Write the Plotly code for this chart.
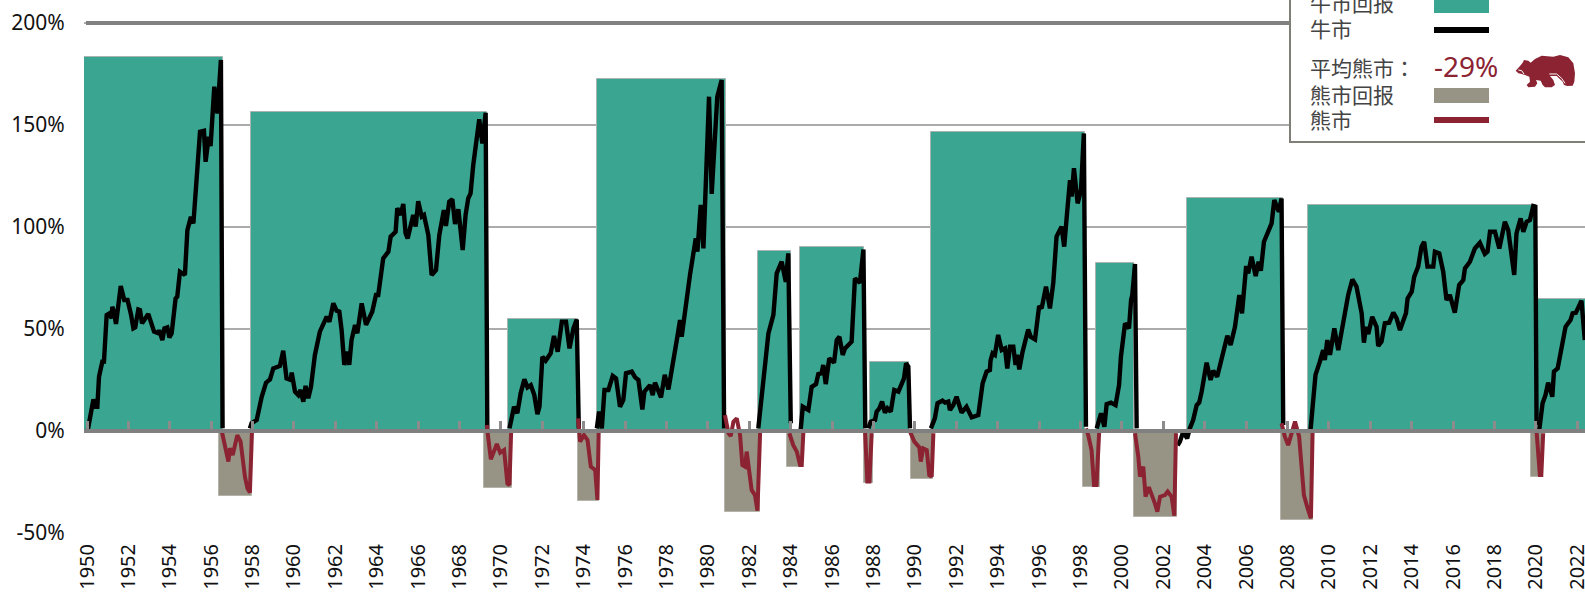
import plotly.graph_objects as go

# ---------- data ----------
tick_years = list(range(1950, 2023, 2))
y_ticks = [-50, 0, 50, 100, 150, 200]

bull_start = [1949.85, 1957.91, 1970.34, 1974.64, 1982.40, 1984.44, 1987.83, 1990.77, 1998.74, 2003.13, 2008.99, 2020.08]
bull_end = [1956.57, 1969.32, 1973.72, 1980.85, 1984.01, 1987.54, 1989.71, 1998.21, 2000.60, 2007.76, 2020.00, 2023.00]
bull_return = [183.2, 156.5, 55.0, 172.7, 88.2, 90.0, 33.8, 146.8, 82.4, 114.0, 110.8, 64.7]

bear_start = [1956.40, 1969.20, 1973.70, 1980.84, 1983.83, 1987.54, 1989.80, 1998.11, 2000.60, 2007.68, 2019.76]
bear_end = [1957.98, 1970.52, 1974.72, 1982.53, 1984.61, 1987.99, 1990.89, 1998.94, 2002.64, 2009.24, 2020.29]
bear_return = [-32.0, -27.7, -34.3, -39.8, -17.5, -25.7, -23.5, -27.6, -42.0, -43.6, -22.7]

bull_years = [
    1950.03, 1950.14, 1950.31, 1950.42, 1950.50, 1950.58, 1950.74, 1950.82, 1950.95, 1951.08, 1951.19, 1951.22,
    1951.30, 1951.40, 1951.63, 1951.80, 1951.96, 1952.13, 1952.24, 1952.33, 1952.48, 1952.56, 1952.66, 1952.96,
    1953.24, 1953.45, 1953.49, 1953.64, 1953.74, 1953.88, 1953.98, 1954.09, 1954.28, 1954.36, 1954.49, 1954.73,
    1954.85, 1955.02, 1955.14, 1955.46, 1955.65, 1955.73, 1955.88, 1955.97, 1956.15, 1956.30, 1956.47, 1956.55, None,
    1957.87, 1957.95, 1958.20, 1958.44, 1958.65, 1958.84, 1959.00, 1959.32, 1959.48, 1959.64, 1959.84, 1959.89,
    1960.05, 1960.21, 1960.32, 1960.45, 1960.56, 1960.69, 1960.82, 1961.01, 1961.25, 1961.58, 1961.71, 1961.90,
    1962.06, 1962.19, 1962.30, 1962.43, 1962.58, 1962.67, 1962.78, 1962.95, 1963.06, 1963.27, 1963.48, 1963.78,
    1963.96, 1964.07, 1964.31, 1964.56, 1964.67, 1964.91, 1964.99, 1965.15, 1965.28, 1965.39, 1965.49, 1965.76,
    1965.88, 1966.00, 1966.17, 1966.28, 1966.49, 1966.65, 1966.86, 1967.02, 1967.24, 1967.34, 1967.50, 1967.65,
    1967.78, 1967.94, 1968.15, 1968.29, 1968.42, 1968.53, 1968.66, 1968.95, 1969.10, 1969.26, 1969.34, None,
    1970.41, 1970.55, 1970.63, 1970.79, 1970.95, 1971.13, 1971.28, 1971.44, 1971.61, 1971.76, 1971.86, 1972.00,
    1972.16, 1972.40, 1972.56, 1972.74, 1972.94, 1973.14, 1973.31, 1973.50, 1973.66, 1973.76, None,
    1974.63, 1974.74, 1974.87, 1975.00, 1975.19, 1975.40, 1975.56, 1975.75, 1975.91, 1976.04, 1976.32, 1976.48,
    1976.64, 1976.83, 1976.93, 1977.20, 1977.33, 1977.44, 1977.73, 1977.91, 1978.09, 1978.36, 1978.52, 1978.65,
    1978.73, 1979.13, 1979.41, 1979.49, 1979.65, 1979.78, 1979.97, 1980.05, 1980.18, 1980.45, 1980.66, 1980.78, None,
    1982.43, 1982.60, 1982.73, 1982.92, 1983.16, 1983.32, 1983.56, 1983.76, 1983.88, 1984.00, None,
    1984.48, 1984.58, 1984.85, 1985.01, 1985.22, 1985.33, 1985.49, 1985.57, 1985.69, 1985.86, 1986.09, 1986.22,
    1986.35, 1986.51, 1986.62, 1986.94, 1987.10, 1987.34, 1987.51, 1987.60, None,
    1987.75, 1987.86, 1988.07, 1988.15, 1988.28, 1988.41, 1988.55, 1988.67, 1988.83, 1989.00, 1989.20, 1989.47,
    1989.57, 1989.68, 1989.76, None,
    1990.77, 1990.96, 1991.09, 1991.33, 1991.45, 1991.61, 1991.69, 1991.85, 1992.01, 1992.25, 1992.49, 1992.74,
    1993.06, 1993.27, 1993.46, 1993.62, 1993.65, 1993.75, 1993.86, 1994.02, 1994.19, 1994.35, 1994.46, 1994.59,
    1994.75, 1994.86, 1994.94, 1995.04, 1995.20, 1995.47, 1995.59, 1995.80, 1996.00, 1996.12, 1996.33, 1996.52,
    1996.68, 1996.84, 1997.08, 1997.21, 1997.36, 1997.49, 1997.57, 1997.68, 1997.86, 1998.02, 1998.16, 1998.26, None,
    1998.78, 1998.99, 1999.15, 1999.26, 1999.47, 1999.69, 1999.86, 1999.95, 2000.15, 2000.34, 2000.44, 2000.50,
    2000.63, 2000.71, None,
    2002.69, 2002.80, 2002.96, 2003.15, 2003.28, 2003.44, 2003.61, 2003.73, 2003.85, 2004.09, 2004.28, 2004.41,
    2004.60, 2004.97, 2005.09, 2005.25, 2005.46, 2005.67, 2005.80, 2006.00, 2006.10, 2006.26, 2006.46, 2006.60,
    2006.71, 2006.86, 2007.07, 2007.23, 2007.36, 2007.58, 2007.71, 2007.79, None,
    2009.11, 2009.35, 2009.56, 2009.72, 2009.80, 2009.92, 2010.05, 2010.26, 2010.45, 2010.69, 2010.93, 2011.13,
    2011.33, 2011.58, 2011.69, 2011.79, 2011.90, 2012.09, 2012.30, 2012.38, 2012.54, 2012.70, 2012.91, 2013.11,
    2013.27, 2013.43, 2013.72, 2013.80, 2014.00, 2014.12, 2014.31, 2014.47, 2014.60, 2014.76, 2015.04, 2015.12,
    2015.33, 2015.52, 2015.68, 2015.84, 2016.08, 2016.29, 2016.49, 2016.57, 2016.81, 2017.05, 2017.29, 2017.53,
    2017.66, 2017.78, 2018.02, 2018.23, 2018.50, 2018.66, 2018.82, 2018.95, 2019.06, 2019.26, 2019.39, 2019.55,
    2019.71, 2019.87, 2019.97, 2020.03, None,
    2020.16, 2020.32, 2020.46, 2020.59, 2020.79, 2020.87, 2021.05, 2021.24, 2021.43, 2021.67, 2021.77, 2021.93,
    2022.04, 2022.20, 2022.36,
]
bull_values = [
    0.0, 5.4, 15.5, 11.9, 11.9, 26.6, 34.0, 34.0, 56.9, 57.7, 55.2, 60.9,
    58.5, 52.5, 71.1, 64.2, 64.2, 56.9, 50.3, 50.8, 59.6, 59.3, 52.8, 57.4,
    48.7, 47.9, 49.5, 44.6, 50.3, 50.8, 45.8, 47.9, 65.0, 65.8, 78.1, 76.5,
    98.5, 105.0, 101.8, 146.7, 147.2, 132.0, 144.3, 139.7, 168.8, 155.7, 181.9, 1.3, None,
    1.3, 3.8, 5.4, 16.8, 23.7, 25.3, 30.7, 31.9, 39.4, 25.8, 25.0, 28.6,
    19.3, 17.6, 20.1, 14.4, 22.1, 16.0, 21.7, 37.3, 48.7, 56.0, 53.6, 62.6,
    59.0, 58.5, 49.5, 32.4, 38.9, 32.4, 44.6, 52.0, 47.9, 62.6, 52.0, 58.5,
    66.7, 66.7, 84.6, 87.9, 95.3, 97.7, 109.2, 105.9, 111.3, 96.9, 94.4, 105.9,
    100.2, 112.7, 105.1, 105.9, 96.1, 76.5, 78.9, 96.1, 108.3, 100.5, 112.4, 113.6,
    101.5, 108.7, 88.7, 105.9, 114.1, 116.5, 130.4, 152.8, 141.0, 156.0, 1.0, None,
    1.3, 7.8, 11.9, 8.7, 18.5, 25.3, 21.4, 22.5, 17.6, 8.3, 11.9, 36.4,
    34.5, 38.1, 46.6, 38.9, 53.6, 53.6, 40.5, 50.3, 54.7, 1.3, None,
    1.3, 9.5, 1.3, 20.1, 20.1, 27.0, 25.8, 11.9, 15.2, 28.3, 29.1, 26.3,
    25.0, 10.6, 19.3, 22.5, 17.6, 23.7, 16.5, 27.5, 20.4, 35.1, 46.2, 54.4,
    46.2, 76.5, 94.4, 87.9, 110.8, 89.5, 148.4, 163.9, 116.2, 163.9, 172.1, 1.3, None,
    1.3, 18.5, 29.9, 47.9, 56.9, 77.3, 83.0, 73.2, 87.1, 3.8, None,
    0.8, 11.9, 10.3, 21.7, 23.0, 27.9, 28.3, 32.4, 23.0, 35.6, 33.5, 44.6,
    46.2, 37.3, 40.5, 43.8, 74.8, 72.7, 89.0, 1.3, None,
    1.3, 4.6, 5.4, 9.5, 11.1, 14.4, 9.0, 11.1, 9.5, 20.1, 19.3, 25.8,
    33.2, 31.5, 1.3, None,
    1.3, 6.2, 13.6, 14.9, 13.9, 14.4, 10.3, 12.7, 16.8, 9.0, 11.9, 6.7,
    7.8, 23.4, 29.1, 29.9, 34.5, 38.1, 37.3, 47.1, 39.7, 40.5, 30.7, 41.3,
    41.3, 32.4, 37.3, 30.2, 38.9, 49.8, 46.2, 44.9, 61.3, 60.1, 70.8, 60.1,
    72.4, 95.3, 100.2, 90.4, 108.3, 123.0, 114.9, 128.8, 111.6, 118.1, 145.9, 2.1, None,
    1.3, 8.7, 2.1, 13.2, 13.9, 12.7, 22.5, 36.4, 52.8, 50.3, 64.2, 66.7,
    81.9, 1.3, None,
    -7.0, -5.2, -0.3, -3.6, 1.3, 5.4, 12.7, 13.9, 19.3, 33.5, 25.0, 29.6,
    26.6, 40.5, 46.7, 42.2, 51.1, 66.7, 57.7, 80.9, 77.3, 85.5, 76.0, 83.0,
    78.6, 92.8, 98.5, 101.8, 113.2, 107.5, 114.0, 2.9, None,
    0.5, 27.5, 34.0, 39.7, 34.8, 44.6, 37.3, 50.3, 39.7, 53.6, 66.7, 74.3,
    70.8, 57.7, 43.3, 51.1, 47.5, 56.0, 51.1, 41.7, 43.8, 52.8, 53.1, 58.0,
    55.2, 49.5, 57.7, 65.0, 68.3, 75.7, 80.6, 90.4, 92.8, 80.6, 80.6, 87.9,
    87.1, 78.1, 64.2, 66.7, 58.0, 71.6, 74.0, 79.7, 83.0, 89.5, 92.3, 86.8,
    87.9, 97.7, 97.7, 89.5, 102.6, 98.5, 85.5, 76.5, 96.9, 104.2, 97.7, 102.6,
    103.4, 110.3, 110.0, 2.9, None,
    0.5, 13.6, 17.6, 23.7, 16.8, 29.1, 30.7, 42.2, 51.1, 54.4, 57.7, 58.0,
    60.1, 63.9, 44.6,
]

bear_years = [
    1956.51, 1956.62, 1956.83, 1956.91, 1957.04, 1957.26, 1957.42, 1957.63, 1957.75, 1957.87, 1957.97, None,
    1969.31, 1969.39, 1969.51, 1969.80, 1969.96, 1970.15, 1970.31, 1970.41, 1970.49, None,
    1973.72, 1973.82, 1974.01, 1974.18, 1974.34, 1974.55, 1974.66, 1974.72, None,
    1980.82, 1980.99, 1981.10, 1981.23, 1981.39, 1981.55, 1981.66, 1981.79, 1981.87, 1982.11, 1982.27, 1982.39, 1982.52, None,
    1983.93, 1984.12, 1984.29, 1984.45, 1984.53, 1984.61, None,
    1987.59, 1987.70, 1987.80, 1987.91, None,
    1989.76, 1989.97, 1990.21, 1990.28, 1990.40, 1990.57, 1990.69, 1990.81, 1990.89, None,
    1998.26, 1998.37, 1998.53, 1998.65, 1998.77, 1998.90, None,
    2000.63, 2000.79, 2000.87, 2001.03, 2001.14, 2001.30, 2001.59, 2001.71, 2001.84, 2002.08, 2002.21, 2002.40, 2002.53, 2002.61, None,
    2007.71, 2007.87, 2008.03, 2008.19, 2008.36, 2008.56, 2008.68, 2008.79, 2008.97, 2009.13, 2009.21, None,
    2020.03, 2020.19, 2020.26, 2020.35,
]
bear_values = [
    0.0, -6.0, -15.0, -8.5, -11.8, -2.0, -5.2, -22.4, -28.1, -30.2, -0.3, None,
    2.9, -4.4, -13.9, -6.4, -10.6, -9.3, -25.7, -26.5, -0.3, None,
    6.2, -5.2, -2.0, -4.4, -17.5, -19.1, -33.8, -0.3, None,
    7.8, -1.1, -2.5, 4.6, 6.2, -2.0, -16.7, -17.5, -10.1, -28.9, -31.4, -39.1, -0.3, None,
    -1.1, -6.9, -10.1, -16.7, -16.7, -0.3, None,
    -0.3, -24.8, -24.8, -1.1, None,
    -0.3, -5.2, -8.0, -15.0, -8.5, -9.3, -21.6, -22.4, -1.1, None,
    1.3, -2.0, -9.3, -26.5, -26.5, -0.3, None,
    -1.1, -12.6, -22.4, -17.5, -32.2, -27.5, -35.5, -39.5, -32.2, -31.4, -29.7, -32.2, -41.5, -1.1, None,
    3.8, -2.8, -6.9, -1.1, 4.6, -2.8, -15.9, -31.4, -37.9, -42.8, -0.3, None,
    -0.3, -21.6, -21.6, -1.1,
]

legend_bull_return = "牛市回报"
legend_bull = "牛市"
legend_avg_bear = "平均熊市："
legend_avg_bear_value = "-29%"
legend_bear_return = "熊市回报"
legend_bear = "熊市"

# ---------- style / layout ----------
W, H = 1585, 593
ML, MB = 84, 60
TEAL, BLACK, TAUPE, RED = "#3AA591", "#000000", "#979485", "#8B2332"
GRID, AXIS = "#ababab", "#808080"
LATIN = "Noto Sans"
CJK = "Noto Sans CJK TC"
X_RANGE = [1949.855, 2022.37]
Y_RANGE = [-50, 211.3]


def px(x):
    return (x - ML) / (W - ML)


def py(y):
    return 1 - y / (H - MB)


fig = go.Figure()
fig.add_trace(go.Bar(
    x=bull_start, y=bull_return, width=[e - s for s, e in zip(bull_start, bull_end)], offset=0,
    marker=dict(color=TEAL, line=dict(color="#a9b4b1", width=1)), hoverinfo="skip"))
fig.add_trace(go.Bar(
    x=bear_start, y=bear_return, width=[e - s for s, e in zip(bear_start, bear_end)], offset=0,
    marker=dict(color=TAUPE, line=dict(color="#b5b4ab", width=1)), hoverinfo="skip"))
fig.add_trace(go.Scatter(x=bull_years, y=bull_values, xaxis="x2", mode="lines",
                         line=dict(color=BLACK, width=4.4), hoverinfo="skip"))
fig.add_trace(go.Scatter(x=bear_years, y=bear_values, xaxis="x2", mode="lines",
                         line=dict(color=RED, width=4), hoverinfo="skip"))

shapes = [
    dict(type="line", xref="paper", yref="y", x0=px(86), x1=1, y0=200, y1=200,
         line=dict(color=AXIS, width=4), layer="above"),
    # legend box
    dict(type="rect", xref="paper", yref="paper", x0=px(1290), x1=px(1600), y0=py(142), y1=py(-20),
         fillcolor="white", line=dict(color="#7f7f77", width=2), layer="above"),
    dict(type="rect", xref="paper", yref="paper", x0=px(1434), x1=px(1489), y0=py(13), y1=py(-10),
         fillcolor=TEAL, line=dict(width=0), layer="above"),
    dict(type="rect", xref="paper", yref="paper", x0=px(1434), x1=px(1489), y0=py(33), y1=py(27),
         fillcolor=BLACK, line=dict(width=0), layer="above"),
    dict(type="rect", xref="paper", yref="paper", x0=px(1434), x1=px(1489), y0=py(103), y1=py(88),
         fillcolor=TAUPE, line=dict(width=0), layer="above"),
    dict(type="rect", xref="paper", yref="paper", x0=px(1434), x1=px(1489), y0=py(123), y1=py(117),
         fillcolor=RED, line=dict(width=0), layer="above"),
]


def icon_path(points, close=True):
    # decorative icon: outline given in page pixels, relative to its own corner
    xs = [px(1510 + a / 3) for a, _ in points]
    ys = [py(50 + b / 3) for _, b in points]
    d = "M " + " L ".join(f"{x:.5f},{y:.5f}" for x, y in zip(xs, ys))
    return d + (" Z" if close else "")


bear_body = [(17, 62), (30, 48), (38, 38), (42, 30), (55, 32), (62, 38), (75, 27), (95, 17), (130, 20), (150, 15),
             (175, 22), (190, 40), (195, 70), (193, 95), (188, 107), (172, 108), (162, 105), (158, 95), (140, 78),
             (120, 78), (130, 90), (135, 105), (125, 112), (105, 112), (98, 105), (92, 92), (78, 90), (82, 100),
             (75, 110), (55, 112), (50, 105), (60, 95), (58, 80), (45, 75), (35, 72), (25, 70)]
bear_slit = [(118, 72), (140, 72), (155, 85), (165, 100)]
bear_mouth = [(25, 60), (35, 62), (42, 72)]
shapes.append(dict(type="path", xref="paper", yref="paper", path=icon_path(bear_body), fillcolor=RED,
                   line=dict(width=0), layer="above"))
for part in (bear_slit, bear_mouth):
    shapes.append(dict(type="path", xref="paper", yref="paper", path=icon_path(part, False),
                       line=dict(color="white", width=1), layer="above"))

annotations = []
for text, y, color, size, font, x in [
    (legend_bull_return, 2, "#444444", 21, CJK, 1308),
    (legend_bull, 28, "#444444", 21, CJK, 1308),
    (legend_avg_bear, 67, "#444444", 21, CJK, 1308),
    (legend_bear_return, 94, "#444444", 21, CJK, 1308),
    (legend_bear, 119, "#444444", 21, CJK, 1308),
    (legend_avg_bear_value, 66, RED, 28, LATIN, 1432),
]:
    annotations.append(dict(text=text, xref="paper", yref="paper", x=px(x), y=py(y), xanchor="left", yanchor="middle",
                            showarrow=False, font=dict(family=font, size=size, color=color)))

fig.update_layout(
    width=W, height=H, autosize=False,
    margin=dict(l=ML, r=0, t=0, b=MB, pad=0),
    paper_bgcolor="white", plot_bgcolor="white",
    showlegend=False, barmode="overlay", bargap=0,
    shapes=shapes, annotations=annotations,
    xaxis=dict(range=X_RANGE, tickmode="array", tickvals=tick_years, ticktext=[str(y) for y in tick_years],
               tickangle=-90, tickfont=dict(family=LATIN, size=20, color="#111111"), automargin=False,
               ticklabeloverflow="allow",
               ticks="outside", ticklen=2, tickcolor="rgba(0,0,0,0)", showgrid=False, zeroline=False, showline=False),
    xaxis2=dict(range=X_RANGE, overlaying="x", anchor="free", position=50 / 261.3, side="top", automargin=False,
                tickmode="array", tickvals=tick_years, ticks="outside", ticklen=8, tickwidth=3, tickcolor="#8c8c8c",
                showticklabels=False, showgrid=False, zeroline=False,
                showline=True, linecolor=AXIS, linewidth=4),
    yaxis=dict(range=Y_RANGE, tickmode="array", tickvals=y_ticks, ticktext=[f"{v}%" for v in y_ticks],
               tickfont=dict(family=LATIN, size=21, color="#111111"), automargin=False,
               ticks="outside", ticklen=14, tickcolor="rgba(0,0,0,0)",
               showgrid=True, gridcolor=GRID, gridwidth=2, zeroline=False, showline=False),
)

fig.write_html("out.html", config={"displayModeBar": False},
               post_script="document.body.style.margin='0';document.documentElement.style.overflow='hidden';")
